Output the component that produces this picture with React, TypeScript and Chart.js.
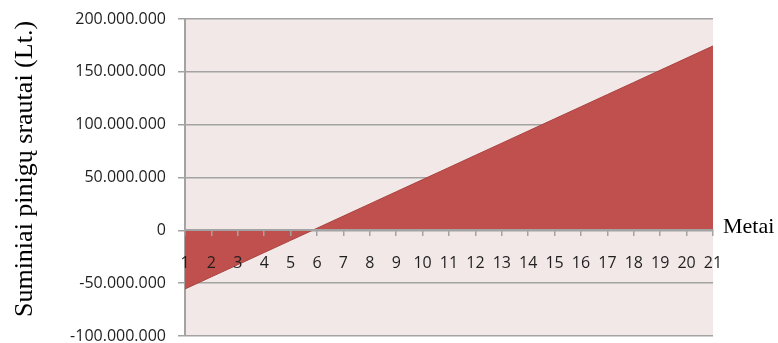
import React, { useEffect, useRef } from 'react';
import { Chart, registerables } from 'chart.js';

Chart.register(...registerables);

const years = ['1', '2', '3', '4', '5', '6', '7', '8', '9', '10', '11', '12', '13', '14', '15', '16', '17', '18', '19', '20', '21'];
// cumulative cash flows, millions of Lt
const cumulativeCashFlowMillions = [-55.5, -44, -32.5, -21, -9.5, 2, 13.5, 25, 36.5, 48, 59.5, 71, 82.5, 94, 105.5, 117, 128.5, 140, 151.5, 163, 174.5];
const yMin = -100000000;
const yMax = 200000000;
const yStep = 50000000;
const yAxisTitle = 'Suminiai pinigų srautai (Lt.)';
const xAxisTitle = 'Metai';

const fmt = (v: number) => {
  const s = Math.round(Math.abs(v)).toString().replace(/\B(?=(\d{3})+(?!\d))/g, '.');
  return (v < 0 ? '-' : '') + s;
};

const GRID = '#a3a3a3';

const bgPlugin = {
  id: 'plotBg',
  beforeDraw(chart: any) {
    const { ctx, chartArea } = chart;
    ctx.save();
    ctx.fillStyle = '#f2e8e8';
    ctx.fillRect(chartArea.left, chartArea.top, chartArea.right - chartArea.left, chartArea.bottom - chartArea.top);
    ctx.restore();
  },
};

const titlesPlugin = {
  id: 'titles',
  afterDraw(chart: any) {
    const { ctx, chartArea, scales } = chart;
    ctx.save();
    ctx.fillStyle = '#000';
    ctx.font = '26px "Liberation Serif", "Times New Roman", serif';
    ctx.textBaseline = 'alphabetic';
    ctx.translate(32, 169);
    ctx.rotate(-Math.PI / 2);
    ctx.textAlign = 'center';
    ctx.fillText(yAxisTitle, 0, 0);
    ctx.restore();
    ctx.save();
    ctx.fillStyle = '#000';
    ctx.font = '22px "Liberation Serif", "Times New Roman", serif';
    ctx.textAlign = 'left';
    ctx.textBaseline = 'alphabetic';
    ctx.fillText(xAxisTitle, chartArea.right + 10, scales.y.getPixelForValue(0) + 3);
    ctx.restore();
  },
};

export default function App() {
  const ref = useRef<HTMLCanvasElement>(null);
  useEffect(() => {
    if (!ref.current) return;
    const chart = new Chart(ref.current, {
      type: 'line',
      data: {
        labels: years,
        datasets: [
          {
            data: cumulativeCashFlowMillions.map((v) => v * 1000000),
            backgroundColor: '#c0504d',
            borderColor: '#a8433f',
            borderWidth: 1,
            fill: 'origin',
            pointRadius: 0,
            tension: 0,
          },
        ],
      },
      options: {
        responsive: false,
        animation: false,
        devicePixelRatio: 1,
        layout: { padding: { left: 0, right: 65, top: 19, bottom: 7 } },
        plugins: { legend: { display: false }, tooltip: { enabled: false } },
        scales: {
          x: {
            type: 'category',
            position: { y: 0 } as any,
            offset: false,
            afterFit(scale: any) {
              scale.height = 0;
            },
            border: { display: true, color: GRID, width: 2, z: 1 } as any,
            grid: { display: true, drawOnChartArea: false, drawTicks: true, tickLength: 5, color: GRID, lineWidth: 1.5, z: 1 } as any,
            ticks: {
              autoSkip: false,
              maxRotation: 0,
              minRotation: 0,
              padding: 19,
              z: 1,
              color: '#1f1f1f',
              font: { family: '"Open Sans", sans-serif', size: 16 },
            } as any,
          },
          y: {
            min: yMin,
            max: yMax,
            afterFit(scale: any) {
              scale.width = 185;
              scale.paddingTop = 0;
              scale.paddingBottom = 0;
            },
            border: { display: true, color: GRID, width: 2 },
            grid: { color: GRID, lineWidth: 1.5, tickLength: 7 },
            ticks: {
              stepSize: yStep,
              padding: 12,
              color: '#1f1f1f',
              font: { family: '"Open Sans", sans-serif', size: 16 },
              callback: (v: any) => fmt(Number(v)),
            },
          },
        },
      },
      plugins: [bgPlugin, titlesPlugin],
    });
    return () => chart.destroy();
  }, []);
  return (
    <div style={{ position: 'absolute', left: 0, top: 0, width: 778, height: 343, background: '#fff' }}>
      <canvas ref={ref} width={778} height={343} />
    </div>
  );
}
